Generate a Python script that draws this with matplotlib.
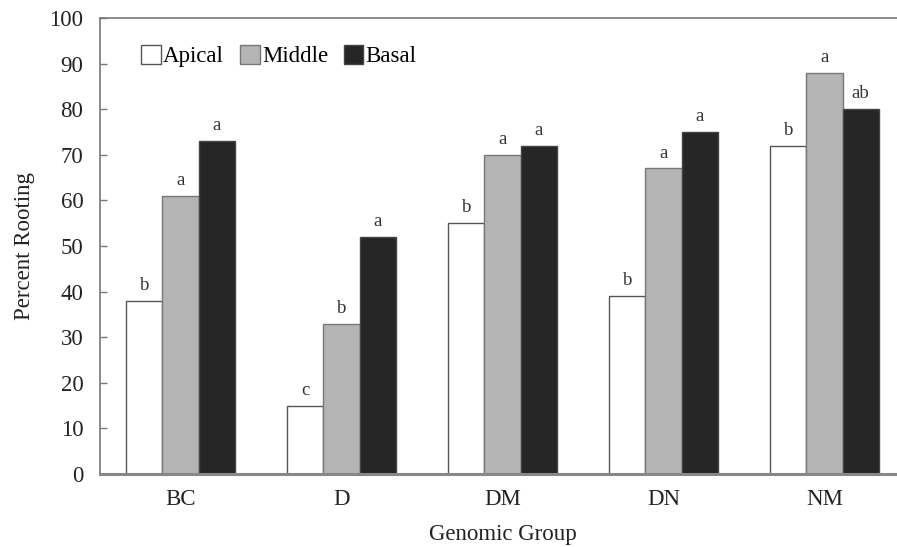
import numpy as np
import matplotlib
matplotlib.use("Agg")
import matplotlib.pyplot as plt

plt.rcParams['font.family'] = ['Liberation Serif', 'DejaVu Serif']

groups = ["BC", "D", "DM", "DN", "NM"]
series = ["Apical", "Middle", "Basal"]
apical = [38, 15, 55, 39, 72]
middle = [61, 33, 70, 67, 88]
basal = [73, 52, 72, 75, 80]
letters_apical = ["b", "c", "b", "b", "b"]
letters_middle = ["a", "b", "a", "a", "a"]
letters_basal = ["a", "a", "a", "a", "ab"]

colors = ["white", "#b4b4b4", "#262626"]
edges = ["#555555", "#777777", "#444444"]

fig = plt.figure(figsize=(8.97, 5.47), dpi=100)
# axes runs a little past the right edge, as in the scan
ax = fig.add_axes([100 / 897, 73 / 547, 805 / 897, 456 / 547])

x = np.arange(len(groups))
w = 0.224
data = [apical, middle, basal]
letters = [letters_apical, letters_middle, letters_basal]
for i, (vals, labs) in enumerate(zip(data, letters)):
    pos = x + (i - 1) * w
    bars = ax.bar(pos, vals, width=w, color=colors[i], edgecolor=edges[i],
                  linewidth=1.0, label=series[i])
    for b, lab in zip(bars, labs):
        ax.annotate(lab, (b.get_x() + b.get_width() / 2, b.get_height()),
                    xytext=(0, 5), textcoords="offset points",
                    ha="center", va="bottom", fontsize=13.5, color="#333333")

ax.set_xlim(-0.5, 4.5)
ax.set_ylim(0, 100)
ax.set_yticks(range(0, 101, 10))
ax.set_xticks(x)
ax.set_xticklabels(groups)
ax.tick_params(axis="y", direction="in", length=5, width=1, color="#777777",
               labelsize=16.5, pad=12, labelcolor="#222222")
ax.tick_params(axis="x", length=0, labelsize=16.5, pad=11, labelcolor="#222222")

for side in ["left", "top"]:
    ax.spines[side].set_color("#777777")
    ax.spines[side].set_linewidth(1.2)
ax.spines["bottom"].set_color("#888888")
ax.spines["bottom"].set_linewidth(2.2)
ax.spines["right"].set_visible(False)

ax.set_ylabel("Percent Rooting", fontsize=16.5, color="#222222", labelpad=10)
ax.set_xlabel("Genomic Group", fontsize=16.5, color="#222222", labelpad=10)

ax.legend(loc="upper left", bbox_to_anchor=(0.04, 0.96), ncol=3, frameon=False,
          fontsize=16.5, handlelength=0.85, handleheight=0.85, handletextpad=0.1,
          columnspacing=0.7, borderaxespad=0)

fig.savefig("out.png", dpi=100)
